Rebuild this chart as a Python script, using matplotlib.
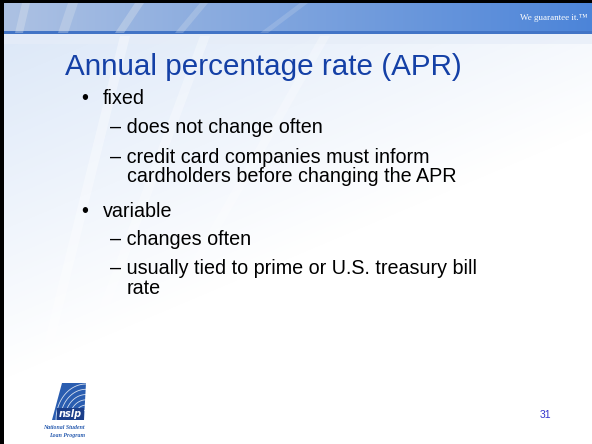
import numpy as np
import matplotlib.pyplot as plt
from matplotlib.patches import Polygon, Rectangle

# slide text
title = "Annual percentage rate (APR)"
tagline = "We guarantee it.\u2122"
page_number = "31"
# (level, text, y centre in px); level 0 = bullet, 1 = dash, 2 = continuation
lines = [
    (0, "fixed", 98),
    (1, "does not change often", 127),
    (1, "credit card companies must inform", 157),
    (2, "cardholders before changing the APR", 176),
    (0, "variable", 211),
    (1, "changes often", 239),
    (1, "usually tied to prime or U.S. treasury bill", 268),
    (2, "rate", 288),
]
logo_lines = ["National Student", "Loan Program"]

W, H = 592, 444
fig = plt.figure(figsize=(W / 100, H / 100), dpi=100)
ax = fig.add_axes([0, 0, 1, 1])
ax.set_xlim(0, W)
ax.set_ylim(H, 0)
ax.axis('off')

# body background: pale blue top-left fading to white
yy, xx = np.mgrid[0:H, 0:W]
t = np.clip(1 - (yy / 380.0) - (xx / 900.0), 0, 1)
top = np.array([0.85, 0.90, 0.97])
bg = np.ones((H, W, 3)) * (1 - t[..., None]) + top * t[..., None]
ax.imshow(bg, extent=[0, W, H, 0], zorder=0)
# light strip just under the header
ax.add_patch(Rectangle((0, 34), W, 10, color='#e6edf8', alpha=0.7, lw=0, zorder=1))

# faint streaks in the body
for x0, x1, a in [(20, 120, 0.35), (50, 200, 0.3), (90, 320, 0.25)]:
    ax.add_patch(Polygon([[x1, 36], [x1 + 10, 36], [x0 + 10, 440], [x0, 440]],
                         closed=True, color='white', alpha=a, lw=0, zorder=1))

# header band gradient
hx = np.linspace(0, 1, 200)
c0 = np.array([0.68, 0.76, 0.89])
c1 = np.array([0.30, 0.52, 0.85])
band = (c0 * (1 - hx[:, None]) + c1 * hx[:, None])[None, :, :]
ax.imshow(band, extent=[0, W, 33, 3], aspect='auto', zorder=2)
ax.add_patch(Rectangle((0, 31), W, 3, color='#4274c6', lw=0, zorder=3))

# streaks in header
for x0, x1, w, a in [(15, 22, 8, 0.35), (58, 68, 10, 0.3), (115, 135, 9, 0.35),
                     (175, 200, 8, 0.25), (260, 300, 8, 0.2)]:
    ax.add_patch(Polygon([[x1, 3], [x1 + w, 3], [x0 + w, 33], [x0, 33]],
                         closed=True, color='#dfe6ee', alpha=a, lw=0, zorder=3))

# black frame on top and left
ax.add_patch(Rectangle((0, 0), W, 3, color='black', lw=0, zorder=5))
ax.add_patch(Rectangle((0, 0), 4, H, color='black', lw=0, zorder=5))

ax.text(587, 18, tagline, color='white', fontsize=6.5, family='Liberation Serif',
        ha='right', va='center', zorder=6)

ax.text(65, 67, title, color='#1440a6', fontsize=21.3, family='Liberation Sans',
        ha='left', va='center', zorder=6)

fs = 14.2
for level, txt, y in lines:
    if level == 0:
        ax.text(81, y, "\u2022", fontsize=fs, family='Liberation Sans',
                ha='left', va='center', zorder=6)
        ax.text(103, y, txt, fontsize=fs, family='Liberation Sans',
                ha='left', va='center', zorder=6)
    elif level == 1:
        ax.text(110, y, "\u2013 " + txt, fontsize=fs, family='Liberation Sans',
                ha='left', va='center', zorder=6)
    else:
        ax.text(127, y, txt, fontsize=fs, family='Liberation Sans',
                ha='left', va='center', zorder=6)

ax.text(545, 415, page_number, color='#3333cc', fontsize=7.5,
        family='Liberation Sans', ha='center', va='center', zorder=6)

# logo
ax.add_patch(Polygon([[62, 383], [86, 383], [84, 420], [52, 420]], closed=True,
                     color='#2a5db0', lw=0, zorder=6))
for r in np.linspace(8, 30, 6):
    th = np.linspace(np.pi * 1.0, np.pi * 1.5, 30)
    ax.plot(86 + r * np.cos(th), 420 + r * np.sin(th) * 1.2, color='white',
            lw=0.6, alpha=0.8, zorder=7)
ax.add_patch(Rectangle((57, 408), 27, 12, color='#1c3f8a', lw=0, zorder=7))
ax.text(70, 414, "nslp", color='white', fontsize=7, fontweight='bold',
        style='italic', ha='center', va='center', zorder=8)
ax.text(85, 427, logo_lines[0], color='#2a5db0', fontsize=4.2, fontweight='bold',
        style='italic', family='Liberation Serif', ha='right', va='center', zorder=7)
ax.text(85, 435, logo_lines[1], color='#2a5db0', fontsize=4.2, fontweight='bold',
        style='italic', family='Liberation Serif', ha='right', va='center', zorder=7)

fig.savefig('out.png', dpi=100)
